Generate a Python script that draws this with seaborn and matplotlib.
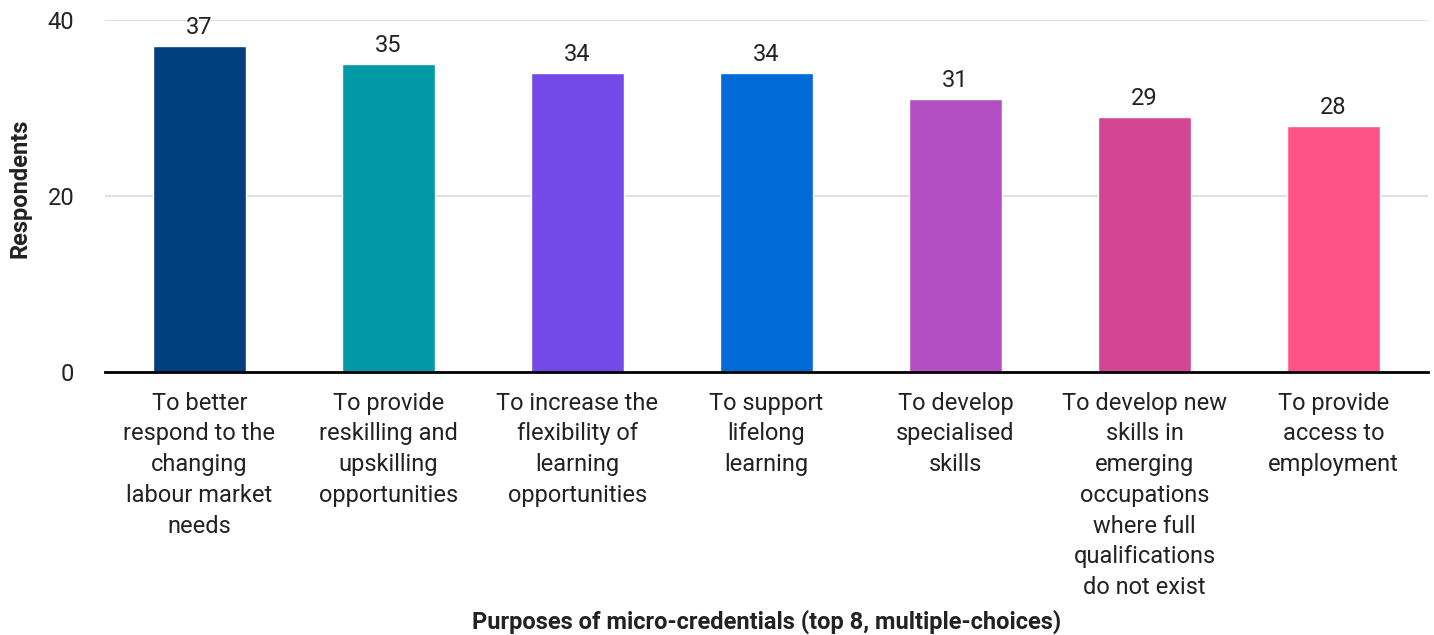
import matplotlib
matplotlib.use("Agg")
import matplotlib.pyplot as plt
import seaborn as sns
import pandas as pd

categories = [
    "To better\nrespond to the\nchanging\nlabour market\nneeds",
    "To provide\nreskilling and\nupskilling\nopportunities",
    "To increase the\nflexibility of\nlearning\nopportunities",
    "To support\nlifelong\nlearning",
    "To develop\nspecialised\nskills",
    "To develop new\nskills in\nemerging\noccupations\nwhere full\nqualifications\ndo not exist",
    "To provide\naccess to\nemployment",
]
respondents = [37, 35, 34, 34, 31, 29, 28]
colors = ["#003F7D", "#0199A6", "#7349E8", "#006BD6", "#B44FC2", "#D44694", "#FF5286"]
y_ticks = [0, 20, 40]

sns.set_theme(style="white")
plt.rcParams["font.family"] = ["Roboto", "DejaVu Sans"]

df = pd.DataFrame({"purpose": categories, "respondents": respondents})

fig = plt.figure(figsize=(14.34, 6.35), dpi=100)
ax = fig.add_axes([0.0732, 0.414, 0.9226, 0.5545])

sns.barplot(data=df, x="purpose", y="respondents", hue="purpose",
            palette=colors, legend=False, width=0.49, saturation=1, ax=ax)

for i, v in enumerate(respondents):
    ax.annotate(str(v), (i, v), xytext=(0, 5), textcoords="offset points",
                ha="center", va="bottom", fontsize=17, color="#222222")

ax.set_ylim(0, 40)
ax.set_yticks(y_ticks)
ax.set_xlim(-0.5, len(categories) - 0.5)
ax.yaxis.grid(True, color="#e0e0e0", linewidth=1.5)
ax.set_axisbelow(True)
for s in ["top", "right", "left"]:
    ax.spines[s].set_visible(False)
ax.spines["bottom"].set_color("black")
ax.spines["bottom"].set_linewidth(2)
ax.tick_params(axis="both", length=0, labelsize=17, labelcolor="#222222")
ax.tick_params(axis="y", pad=22)
ax.tick_params(axis="x", pad=14)
for lbl in ax.get_xticklabels():
    lbl.set_linespacing(1.43)
    lbl.set_va("top")

ax.set_xlabel("Purposes of micro-credentials (top 8, multiple-choices)",
              fontsize=17, fontweight="bold", color="#222222")
ax.set_ylabel("Respondents", fontsize=17, fontweight="bold", color="#222222")
ax.yaxis.set_label_coords(-0.0555, 0.523)
ax.xaxis.set_label_coords(0.5, -0.675)

fig.savefig("out.png", dpi=100, facecolor="white")
